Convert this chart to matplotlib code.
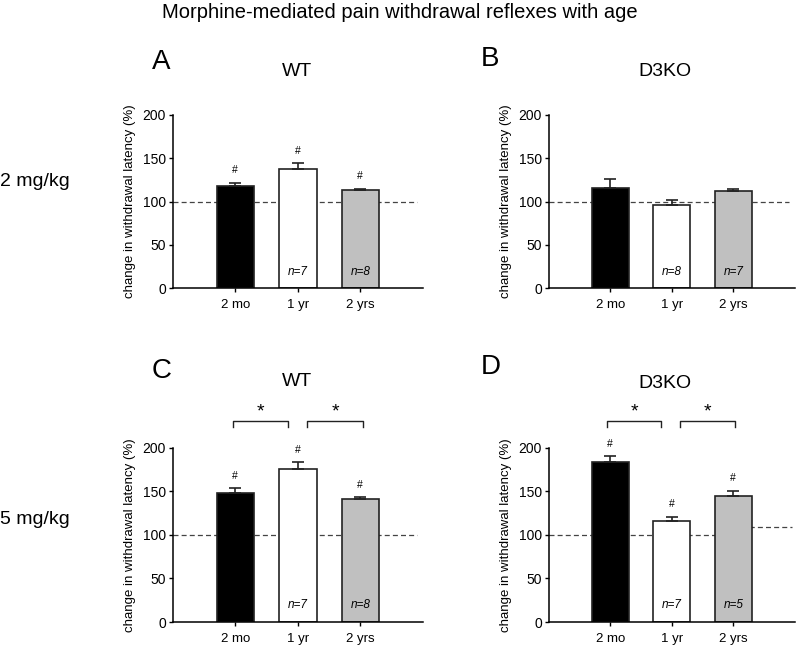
import matplotlib
matplotlib.use("Agg")
import matplotlib.pyplot as plt

plt.rcParams['font.family'] = ['Liberation Sans', 'DejaVu Sans']

ages = ['2 mo', '1 yr', '2 yrs']
colors = ['black', 'white', '#c0c0c0']

# mean change in withdrawal latency (%) and SEM
wt_2mg = [118, 137.5, 113]
wt_2mg_err = [4, 7, 2]
ko_2mg = [116, 96.5, 112]
ko_2mg_err = [10.5, 5.5, 2.5]
wt_5mg = [148, 176, 141]
wt_5mg_err = [5.5, 7, 2]
ko_5mg = [183, 116, 144]
ko_5mg_err = [7, 5, 6.5]

n_wt_2mg = ['', 'n=7', 'n=8']
n_ko_2mg = ['', 'n=8', 'n=7']
n_wt_5mg = ['', 'n=7', 'n=8']
n_ko_5mg = ['', 'n=7', 'n=5']

hash_wt_2mg = [True, True, True]
hash_ko_2mg = [False, False, False]
hash_wt_5mg = [True, True, True]
hash_ko_5mg = [True, True, True]

fig = plt.figure(figsize=(8, 6.47), dpi=100)
dash = (0, (4, 2.5))


def panel(rect, vals, errs, nlab, hashes, letter, title, letter_xy, title_xy,
          brackets=None, ref_end=2.9):
    ax = fig.add_axes(rect)
    x = list(range(len(ages)))
    ax.hlines(100, -1, ref_end, colors='#444444', linestyles=dash, lw=0.9, zorder=1)
    ax.bar(x, vals, width=0.6, color=colors, edgecolor='#222222', lw=1.2, zorder=2)
    ax.errorbar(x, vals, yerr=[[0] * 3, errs], fmt='none', ecolor='#222222',
                elinewidth=1.2, capsize=4, capthick=1.2, zorder=3)
    for xi, v, e, h, n in zip(x, vals, errs, hashes, nlab):
        if h:
            ax.annotate('#', (xi, v + e), xytext=(0, 9), textcoords='offset points',
                        ha='center', va='center', fontsize=7.5)
        if n:
            ax.text(xi, 19, n, ha='center', va='center', fontsize=8.5, style='italic')
    ax.set_xlim(-1, 3)
    ax.set_ylim(0, 200)
    ax.set_yticks([0, 50, 100, 150, 200])
    ax.set_xticks(x)
    ax.set_xticklabels(ages)
    ax.tick_params(axis='x', labelsize=9.5, direction='out', width=1, length=3, pad=5)
    ax.tick_params(axis='y', labelsize=10, direction='out', width=1, length=3, pad=2)
    for s in ['top', 'right']:
        ax.spines[s].set_visible(False)
    for s in ['left', 'bottom']:
        ax.spines[s].set_linewidth(1.1)
    ax.set_ylabel('change in withdrawal latency (%)', fontsize=9.5, labelpad=5)
    if brackets:
        for x0, x1 in brackets:
            ax.plot([x0, x0, x1, x1], [224, 230, 230, 224], color='#222222', lw=1,
                    clip_on=False)
            ax.text((x0 + x1) / 2, 241, '*', ha='center', va='center', fontsize=14)
    fig.text(letter_xy[0], letter_xy[1], letter, fontsize=20, ha='left', va='center')
    fig.text(title_xy[0], title_xy[1], title, fontsize=14, ha='center', va='center')
    return ax


H = 647.0
panel([0.216, 1 - 288.3 / H, 0.3125, 0.268], wt_2mg, wt_2mg_err, n_wt_2mg, hash_wt_2mg,
      'A', 'WT', (152 / 800, 1 - 62 / H), (297 / 800, 1 - 72 / H))
panel([0.686, 1 - 288.3 / H, 0.3075, 0.268], ko_2mg, ko_2mg_err, n_ko_2mg, hash_ko_2mg,
      'B', 'D3KO', (481 / 800, 1 - 59 / H), (665 / 800, 1 - 72 / H))
panel([0.216, 1 - 622 / H, 0.3125, 0.2695], wt_5mg, wt_5mg_err, n_wt_5mg, hash_wt_5mg,
      'C', 'WT', (152 / 800, 1 - 371 / H), (297 / 800, 1 - 382 / H),
      brackets=[(-0.03, 0.85), (1.15, 2.05)])
axd = panel([0.686, 1 - 622 / H, 0.3075, 0.2695], ko_5mg, ko_5mg_err, n_ko_5mg, hash_ko_5mg,
            'D', 'D3KO', (481 / 800, 1 - 367 / H), (665 / 800, 1 - 383 / H),
            brackets=[(-0.05, 0.82), (1.13, 2.03)], ref_end=2.0)
axd.hlines(109.5, 2, 2.95, colors='#444444', linestyles=dash, lw=0.9, zorder=1)

fig.text(0.5, 1 - 13 / H, 'Morphine-mediated pain withdrawal reflexes with age',
         ha='center', va='center', fontsize=14.5)
fig.text(0.0, 1 - 182 / H, '2 mg/kg', ha='left', va='center', fontsize=14)
fig.text(0.0, 1 - 520 / H, '5 mg/kg', ha='left', va='center', fontsize=14)

fig.savefig('out.png', dpi=100)
